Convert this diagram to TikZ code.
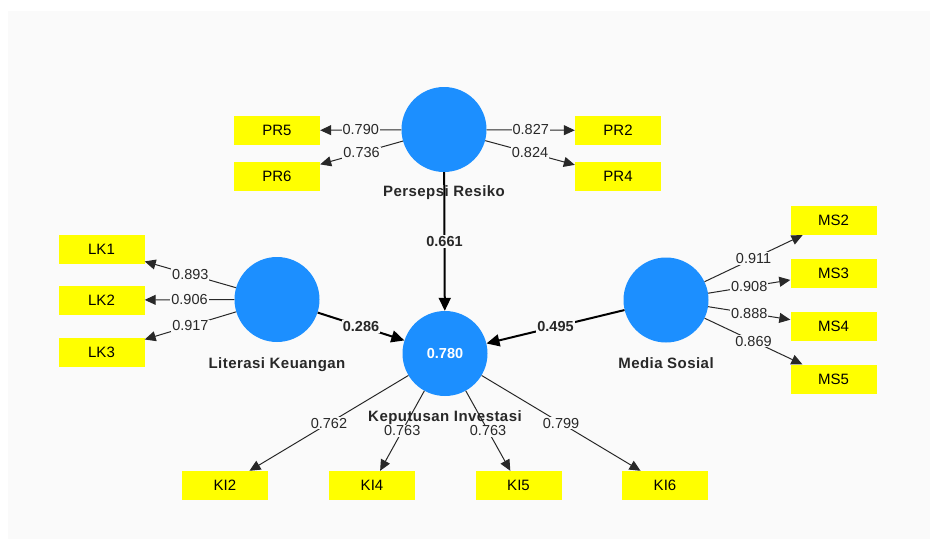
\documentclass[tikz,border=0pt]{standalone}
\usepackage{fontspec}
\setmainfont{Liberation Sans}
\newfontfamily\namefont[LetterSpace=3]{Liberation Sans}
\usetikzlibrary{arrows.meta}
\definecolor{bgc}{RGB}{250,250,250}
\definecolor{lvblue}{RGB}{28,143,255}
\definecolor{indy}{RGB}{255,255,0}
\definecolor{txtc}{RGB}{40,40,40}
\begin{document}
\begin{tikzpicture}[x=1pt,y=-1pt,
  lat/.style={circle,fill=lvblue,draw=none,minimum size=85pt,inner sep=0pt,text=white,font=\fontsize{14.5}{16}\selectfont\bfseries},
  ind/.style={rectangle,fill=indy,draw=none,minimum width=86pt,minimum height=29pt,inner sep=0pt,font=\fontsize{15}{16}\selectfont},
  lvname/.style={font=\namefont\fontsize{15}{16}\selectfont\bfseries,text=txtc,inner sep=0pt},
  loadarr/.style={draw=txtc,line width=1pt,-{Triangle[length=11pt,width=10pt]}},
  patharr/.style={draw=black,line width=2pt,-{Triangle[length=13pt,width=12pt]}},
  lbl/.style={fill=bgc,inner sep=1pt,text=txtc,font=\fontsize{14.5}{16}\selectfont},
  plbl/.style={fill=bgc,inner sep=1pt,text=txtc,font=\fontsize{14.5}{16}\selectfont\bfseries}]
\useasboundingbox (0,0) rectangle (930,539);
\fill[bgc] (8,11) rectangle (930,539);
% latent variables
\node[lat] (PR) at (444,129.5) {};
\node[lat] (LK) at (277,299.5) {};
\node[lat] (MS) at (666,300) {};
\node[lat] (KI) at (445,353.5) {0.780};
% names
\node[lvname] (nPR) at (444,193) {Persepsi Resiko};
\node[lvname] (nLK) at (277,365) {Literasi Keuangan};
\node[lvname] (nMS) at (666,363) {Media Sosial};
\node[lvname] (nKI) at (445,418) {Keputusan Investasi};
% indicators
\node[ind] (PR5) at (277,130.5) {PR5};
\node[ind] (PR6) at (277,176.5) {PR6};
\node[ind] (PR2) at (618,130.5) {PR2};
\node[ind] (PR4) at (618,176.5) {PR4};
\node[ind] (LK1) at (101.5,249) {LK1};
\node[ind] (LK2) at (101.5,300) {LK2};
\node[ind] (LK3) at (101.5,352.5) {LK3};
\node[ind] (MS2) at (833.5,220.5) {MS2};
\node[ind] (MS3) at (833.5,273) {MS3};
\node[ind] (MS4) at (833.5,326.5) {MS4};
\node[ind] (MS5) at (833.5,379) {MS5};
\node[ind] (KI2) at (225,485.5) {KI2};
\node[ind] (KI4) at (372,485.5) {KI4};
\node[ind] (KI5) at (518.5,485.5) {KI5};
\node[ind] (KI6) at (665,485.5) {KI6};
% loadings
\draw[loadarr] (PR) -- node[lbl] {0.790} (PR5);
\draw[loadarr] (PR) -- node[lbl] {0.736} (PR6);
\draw[loadarr] (PR) -- node[lbl] {0.827} (PR2);
\draw[loadarr] (PR) -- node[lbl] {0.824} (PR4);
\draw[loadarr] (LK) -- node[lbl] {0.893} (LK1);
\draw[loadarr] (LK) -- node[lbl] {0.906} (LK2);
\draw[loadarr] (LK) -- node[lbl] {0.917} (LK3);
\draw[loadarr] (MS) -- node[lbl] {0.911} (MS2);
\draw[loadarr] (MS) -- node[lbl] {0.908} (MS3);
\draw[loadarr] (MS) -- node[lbl] {0.888} (MS4);
\draw[loadarr] (MS) -- node[lbl] {0.869} (MS5);
\draw[loadarr] (KI) -- node[lbl] {0.762} (KI2);
\draw[loadarr] (KI) -- node[lbl] {0.763} (KI4);
\draw[loadarr] (KI) -- node[lbl] {0.763} (KI5);
\draw[loadarr] (KI) -- node[lbl] {0.799} (KI6);
% paths
\draw[patharr] (PR) -- node[plbl] {0.661} (KI);
\draw[patharr] (LK) -- node[plbl] {0.286} (KI);
\draw[patharr] (MS) -- node[plbl] {0.495} (KI);
\end{tikzpicture}
\end{document}
